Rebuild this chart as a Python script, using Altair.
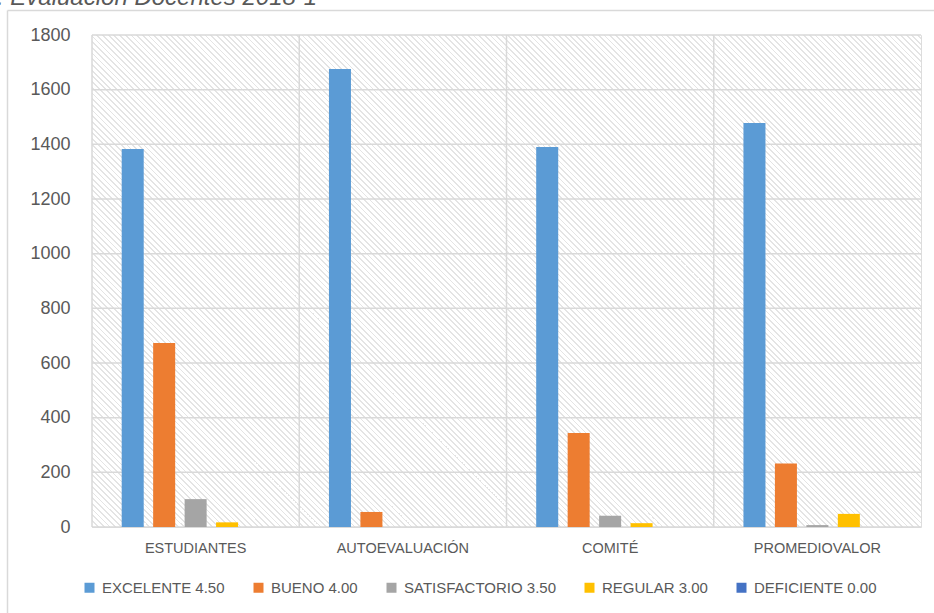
import altair as alt
import pandas as pd

categories = ["ESTUDIANTES", "AUTOEVALUACIÓN", "COMITÉ", "PROMEDIOVALOR"]
series = ["EXCELENTE 4.50", "BUENO 4.00", "SATISFACTORIO 3.50", "REGULAR 3.00", "DEFICIENTE 0.00"]
colors = ["#5B9BD5", "#ED7D31", "#A5A5A5", "#FFC000", "#4472C4"]

excelente = [1383, 1676, 1390, 1478]
bueno = [673, 55, 344, 232]
satisfactorio = [102, 0, 41, 7]
regular = [17, 0, 14, 48]
deficiente = [0, 0, 0, 0]

title_text = ": Evaluación Docentes 2018-1"
y_ticks = [0, 200, 400, 600, 800, 1000, 1200, 1400, 1600, 1800]

values = [excelente, bueno, satisfactorio, regular, deficiente]
rows = []
for s, vals in zip(series, values):
    for c, v in zip(categories, vals):
        rows.append({"categoria": c, "serie": s, "valor": v})
df = pd.DataFrame(rows)
cat_df = pd.DataFrame({"categoria": categories})
tick_df = pd.DataFrame({"valor": y_ticks})

W, H = 829, 492
FONT = "Liberation Sans"
GRID = "#d9d9d9"
TXT = "#595959"

# diagonal hatch background as a striped linear gradient (45 degree stripes)
span = W + H
p1 = (0.0, 1.0)
k = span / (W * W + H * H)
p2 = (p1[0] + k * W, p1[1] - k * H)
period = 5.7
stripe = 1.8
stops = []
pos = 0.0
while pos < span:
    a = pos / span
    b = min((pos + stripe) / span, 1.0)
    c = min((pos + period) / span, 1.0)
    stops += [
        alt.GradientStop(offset=a, color="#e4e4e4"),
        alt.GradientStop(offset=b, color="#e4e4e4"),
        alt.GradientStop(offset=b, color="#ffffff"),
        alt.GradientStop(offset=c, color="#ffffff"),
    ]
    pos += period
hatch = alt.LinearGradient(gradient="linear", stops=stops, x1=p1[0], y1=p1[1], x2=p2[0], y2=p2[1])

x_scale = alt.Scale(domain=categories, paddingInner=0, paddingOuter=0)
y_scale = alt.Scale(domain=[0, 1800], nice=False)

x_axis = alt.Axis(title=None, labelAngle=0, ticks=False, domain=False, grid=False,
                  labelFontSize=14.5, labelColor=TXT, labelFont=FONT, labelPadding=14)
y_axis = alt.Axis(title=None, values=y_ticks, format="d", ticks=False, domain=False, grid=False,
                  labelFontSize=18, labelColor=TXT, labelFont=FONT, labelPadding=22)

one = pd.DataFrame({"a": [0]})

background = alt.Chart(one).mark_rect(color=hatch).encode(
    x=alt.value(0), x2=alt.value(W), y=alt.value(0), y2=alt.value(H)
)

hrules = alt.Chart(tick_df).mark_rule(color=GRID, strokeWidth=1.5).encode(
    y=alt.Y("valor:Q", scale=y_scale, axis=y_axis)
)

vrules = alt.Chart(cat_df).mark_rule(color=GRID, strokeWidth=1.5).encode(
    x=alt.X("categoria:N", sort=categories, scale=x_scale, bandPosition=0, axis=x_axis)
)

bars = alt.Chart(df).mark_bar().encode(
    x=alt.X("categoria:N", sort=categories, scale=x_scale, axis=x_axis),
    xOffset=alt.XOffset("serie:N", sort=series,
                        scale=alt.Scale(domain=series, paddingInner=0.3, paddingOuter=0.944)),
    y=alt.Y("valor:Q", scale=y_scale, axis=y_axis),
    color=alt.Color("serie:N", sort=series, scale=alt.Scale(domain=series, range=colors),
                    legend=alt.Legend(title=None, orient="none", direction="horizontal",
                                      legendX=-10, legendY=545, symbolType="square",
                                      symbolSize=100, symbolStrokeWidth=0,
                                      labelFontSize=15, labelColor=TXT, labelFont=FONT,
                                      labelOffset=5, columnPadding=26, labelLimit=300)),
)

frame_left = alt.Chart(one).mark_rule(color=GRID, strokeWidth=1.5).encode(
    x=alt.value(-84.5), y=alt.value(-24.5), y2=alt.value(580)
)
frame_top = alt.Chart(one).mark_rule(color=GRID, strokeWidth=1.5).encode(
    x=alt.value(-84.5), x2=alt.value(845), y=alt.value(-24.5)
)
title = alt.Chart(one).mark_text(
    align="left", baseline="alphabetic", fontSize=24, fontStyle="italic",
    font=FONT, color=TXT
).encode(x=alt.value(-95), y=alt.value(-30), text=alt.value(title_text))

chart = alt.layer(frame_left, frame_top, title, background, hrules, vrules, bars).properties(
    width=W, height=H,
    autosize=alt.AutoSizeParams(type="none"),
    padding={"left": 92, "top": 35, "right": 13, "bottom": 86},
).configure_view(
    stroke=GRID, strokeWidth=1.5
).configure(background="white")

chart.save("out.html", embed_options={"renderer": "svg", "actions": False})
